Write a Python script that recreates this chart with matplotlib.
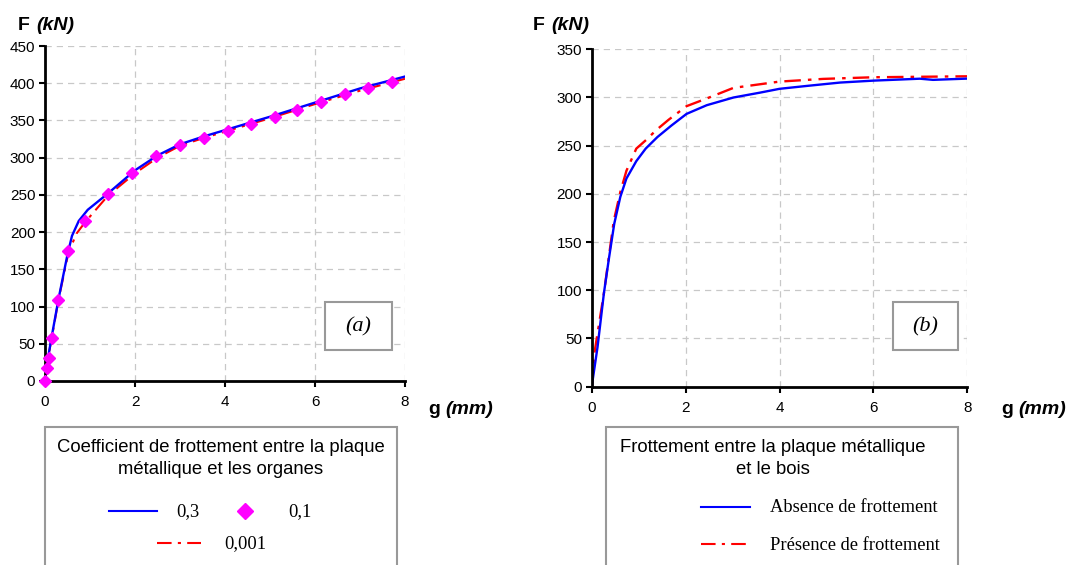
import matplotlib
matplotlib.use("Agg")
import matplotlib.pyplot as plt
from matplotlib.lines import Line2D
from matplotlib.patches import Rectangle

plt.rcParams['font.family'] = ['Liberation Sans', 'DejaVu Sans']

# (a) coefficient de frottement plaque / organes
g_03 = [0, 0.05, 0.15, 0.3, 0.5, 0.6, 0.75, 0.95, 1.4, 2.0, 2.5, 3.0, 3.5, 4.0, 5.0, 6.0, 7.0, 8.0]
F_03 = [0, 25, 60, 110, 170, 195, 215, 230, 252, 283, 303, 318, 328, 337, 355, 374, 393, 409]

g_01 = [0, 0.037, 0.08, 0.15, 0.29, 0.52, 0.88, 1.39, 1.93, 2.46, 3.01, 3.53, 4.06, 4.58, 5.10, 5.61, 6.14, 6.66, 7.18, 7.70]
F_01 = [0, 18, 31, 58, 109, 174, 215, 251, 280, 302, 317, 327, 336, 345, 354, 364, 375, 385, 393, 401]

g_0001 = [0, 0.05, 0.15, 0.3, 0.52, 0.7, 0.9, 1.4, 2.0, 2.5, 3.0, 3.5, 4.0, 5.0, 6.0, 7.0, 8.0]
F_0001 = [0, 25, 58, 109, 172, 198, 214, 249, 279, 300, 316, 326, 335, 353, 372, 390, 406]

# (b) frottement plaque / bois
g_abs = [0, 0.124, 0.26, 0.37, 0.48, 0.61, 0.74, 0.95, 1.15, 1.4, 1.7, 2.02, 2.45, 3.02, 3.58, 4.0, 4.58,
         5.29, 6.0, 6.99, 7.27, 8.0]
F_abs = [0, 41, 97, 134, 169, 197, 216, 234, 247, 259, 271, 283, 292, 300, 305, 309, 312,
         315.5, 317.5, 319.5, 318.3, 319.6]

g_pres = [0, 0.055, 0.26, 0.47, 0.61, 0.74, 0.95, 1.16, 1.37, 1.64, 2.02, 2.45, 3.02, 4.0, 4.93, 6.0, 8.0]
F_pres = [0, 34, 97, 172, 202, 224, 247, 256, 266, 277, 291, 299, 310, 316.5, 319.3, 321, 322]

W, H = 1075, 565
fig = plt.figure(figsize=(W / 100, H / 100), dpi=100)


def fx(x):
    return x / W


def fy(y):
    return 1 - y / H


def style_ax(ax, ymax):
    ax.set_xlim(0, 8)
    ax.set_ylim(0, ymax)
    ax.set_xticks([0, 2, 4, 6, 8])
    ax.set_yticks(range(0, ymax + 1, 50))
    for s in ['top', 'right']:
        ax.spines[s].set_visible(False)
    for s in ['left', 'bottom']:
        ax.spines[s].set_linewidth(2)
    ax.grid(True, color='#c8c8c8', linestyle=(0, (5, 4)), linewidth=0.9)
    ax.set_axisbelow(True)
    ax.tick_params(axis='both', labelsize=11, width=1.5, length=4, direction='out')
    ax.tick_params(axis='y', pad=3)
    ax.tick_params(axis='x', pad=6)


dashdot = (7, 3, 1.5, 3)

axa = fig.add_axes([fx(45), fy(381), fx(405 - 45), (381 - 46) / H])
style_ax(axa, 450)
axa.plot(g_0001, F_0001, color='red', lw=1.5, dashes=dashdot)
axa.plot(g_03, F_03, color='blue', lw=1.7)
axa.plot(g_01, F_01, linestyle='none', marker='D', color='#ff00ff', markersize=6.5, clip_on=False, zorder=5)

axb = fig.add_axes([fx(591.7), fy(386.7), fx(967.3 - 591.7), (386.7 - 49.3) / H])
style_ax(axb, 350)
axb.plot(g_pres, F_pres, color='red', lw=1.7, dashes=dashdot)
axb.plot(g_abs, F_abs, color='blue', lw=1.7)

# axis titles
for x0, y0 in [(18, 25), (533, 25)]:
    fig.text(fx(x0), fy(y0), 'F', fontsize=14, fontweight='bold', va='center')
    fig.text(fx(x0 + 18), fy(y0), '(kN)', fontsize=14, fontweight='bold', style='italic', va='center')
for x0 in [428, 1001]:
    fig.text(fx(x0), fy(410), 'g', fontsize=14, fontweight='bold', va='center')
    fig.text(fx(x0 + 17), fy(410), '(mm)', fontsize=14, fontweight='bold', style='italic', va='center')

# (a) / (b) boxes
for x0, x1, lab in [(325, 392, '(a)'), (893, 958, '(b)')]:
    fig.add_artist(Rectangle((fx(x0), fy(350)), fx(x1 - x0), (350 - 302) / H, transform=fig.transFigure,
                             facecolor='white', edgecolor='#999999', lw=1.5, zorder=6))
    fig.text(fx((x0 + x1) / 2), fy(327), lab, family='Liberation Serif', style='italic', fontsize=16,
             ha='center', va='center', zorder=7)

# legend boxes
for x0, x1 in [(45, 397), (606, 958)]:
    fig.add_artist(Rectangle((fx(x0), fy(600)), fx(x1 - x0), (600 - 426.7) / H, transform=fig.transFigure,
                             facecolor='white', edgecolor='#999999', lw=1.5, clip_on=False))


def leg_line(x0, x1, y, **kw):
    fig.add_artist(Line2D([fx(x0), fx(x1)], [fy(y), fy(y)], transform=fig.transFigure, **kw))


serif = dict(family='Liberation Serif', fontsize=13.3, va='center')
sans = dict(fontsize=13.3, ha='center', va='center')

fig.text(fx(221), fy(448), 'Coefficient de frottement entre la plaque', **sans)
fig.text(fx(221), fy(469), 'métallique et les organes', **sans)
leg_line(109, 157, 511, color='blue', lw=1.5)
fig.text(fx(176), fy(512), '0,3', **serif)
fig.add_artist(Line2D([fx(245)], [fy(511)], transform=fig.transFigure, marker='D', color='#ff00ff',
                      markersize=8, linestyle='none'))
fig.text(fx(288), fy(512), '0,1', **serif)
leg_line(157, 201, 543, color='red', lw=1.5, dashes=dashdot)
fig.text(fx(224), fy(544), '0,001', **serif)

fig.text(fx(773), fy(448), 'Frottement entre la plaque métallique', **sans)
fig.text(fx(773), fy(469), 'et le bois', **sans)
leg_line(701, 750, 507, color='blue', lw=1.5)
fig.text(fx(770), fy(507), 'Absence de frottement', **serif)
leg_line(701, 746, 544, color='red', lw=1.5, dashes=dashdot)
fig.text(fx(770), fy(545), 'Présence de frottement', **serif)

fig.savefig('out.png', dpi=100)
